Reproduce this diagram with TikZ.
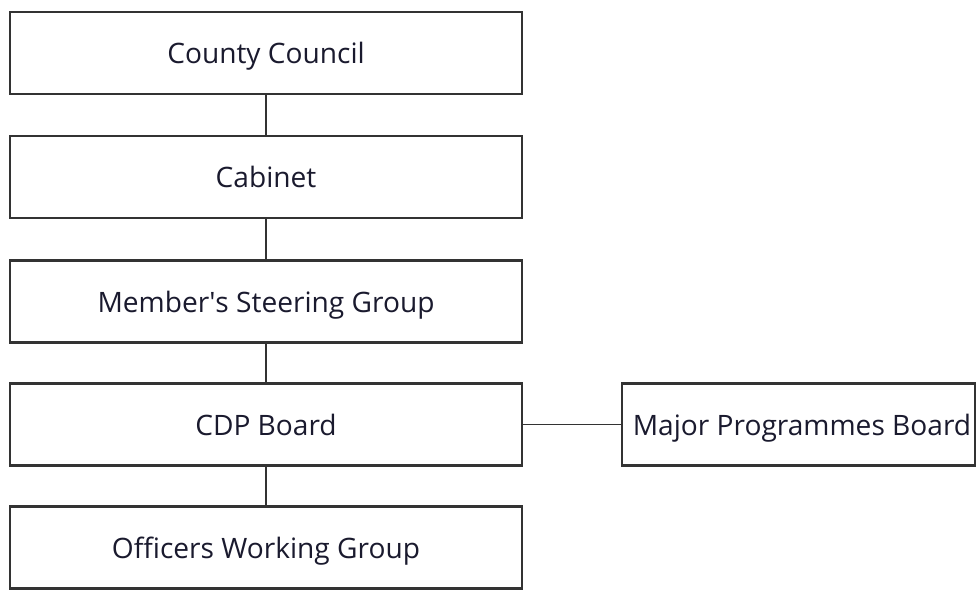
\documentclass[tikz,border=0pt]{standalone}
\usepackage{fontspec}
\setmainfont{Open Sans}
\usepackage{xcolor}
\usetikzlibrary{positioning}

\definecolor{edge}{HTML}{333333}
\definecolor{label}{HTML}{1A1A2E}

\tikzset{
  group/.style={draw=edge,line width=1.2pt,fill=white,rectangle,
    minimum width=10.24cm,minimum height=1.64cm,inner sep=0pt,
    text depth=0pt,font=\fontsize{16}{19}\selectfont,text=label},
  link/.style={draw=edge,line width=0.9pt}
}

\begin{document}
\begin{tikzpicture}[x=0.02cm,y=-0.02cm]
\useasboundingbox (0,0) rectangle (977,595);
\node[group] (council) at (266,53) {County Council};
\node[group] (cabinet) at (266,177) {Cabinet};
\node[group] (steering) at (266,301.5) {Member\textquotesingle s Steering Group};
\node[group] (cdp) at (266,424.5) {CDP Board};
\node[group] (officers) at (266,547.5) {Officers Working Group};
\node[group,minimum width=7.06cm] (major) at (798.5,424.5) {\hspace{4pt}Major Programmes Board};
\draw[link] (council) -- (cabinet);
\draw[link] (cabinet) -- (steering);
\draw[link] (steering) -- (cdp);
\draw[link] (cdp) -- (officers);
\draw[link] (cdp) -- (major);
\end{tikzpicture}
\end{document}
